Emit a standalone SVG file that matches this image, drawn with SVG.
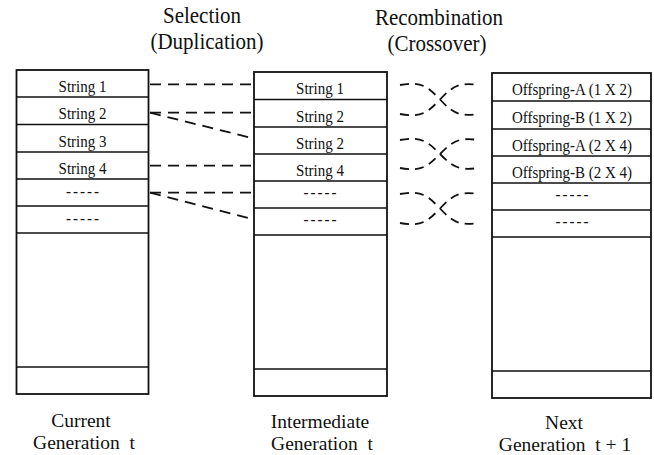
<svg xmlns="http://www.w3.org/2000/svg" width="654" height="455" viewBox="0 0 654 455">
<style>
.box{fill:#fff;stroke:#111;stroke-width:1.8}
.div{stroke:#111;stroke-width:1.5;fill:none}
text{font-family:'Liberation Serif','Times New Roman','DejaVu Serif',serif;fill:#111;text-anchor:middle}
.cell{font-size:15px}
.dots{font-size:15px;letter-spacing:2px}
.title{font-size:21px}
.label{font-size:19.5px}
.sel{stroke:#111;stroke-width:1.8;fill:none;stroke-dasharray:11 7}
.cross{stroke:#111;stroke-width:1.8;fill:none;stroke-dasharray:9 6}
</style>
<rect width="654" height="455" fill="#fff"/>

<g id="titles">
<text class="title" transform="translate(202,23) scale(1,1.05)">Selection</text>
<text class="title" transform="translate(207,49) scale(1,1.05)">(Duplication)</text>
<text class="title" transform="translate(439,25) scale(1,1.05)">Recombination</text>
<text class="title" transform="translate(437,51) scale(1,1.05)">(Crossover)</text>
</g>

<g id="current-generation">
<rect class="box" x="16.5" y="70" width="132" height="324"/>
<path class="div" d="M16.5,97H148.5M16.5,124.5H148.5M16.5,152H148.5M16.5,179H148.5M16.5,206H148.5M16.5,233H148.5M16.5,367H148.5"/>
<text class="cell" transform="translate(82.5,92) scale(1,1.15)">String 1</text>
<text class="cell" transform="translate(82.5,119) scale(1,1.15)">String 2</text>
<text class="cell" transform="translate(82.5,146.5) scale(1,1.15)">String 3</text>
<text class="cell" transform="translate(82.5,174) scale(1,1.15)">String 4</text>
<text class="dots" transform="translate(83.5,197) scale(1,1.15)">-----</text>
<text class="dots" transform="translate(83.5,224) scale(1,1.15)">-----</text>
<text class="label" xml:space="preserve" x="81" y="427">Current</text>
<text class="label" xml:space="preserve" x="84" y="449">Generation  t</text>
</g>

<g id="intermediate-generation">
<rect class="box" x="254" y="72" width="133" height="324"/>
<path class="div" d="M254,99.5H387M254,127H387M254,154H387M254,181H387M254,208H387M254,235H387M254,369H387"/>
<text class="cell" transform="translate(320,94) scale(1,1.15)">String 1</text>
<text class="cell" transform="translate(320,121.5) scale(1,1.15)">String 2</text>
<text class="cell" transform="translate(320,149) scale(1,1.15)">String 2</text>
<text class="cell" transform="translate(320,176) scale(1,1.15)">String 4</text>
<text class="dots" transform="translate(321,198) scale(1,1.15)">-----</text>
<text class="dots" transform="translate(321,225) scale(1,1.15)">-----</text>
<text class="label" xml:space="preserve" x="320" y="428">Intermediate</text>
<text class="label" xml:space="preserve" x="322" y="450">Generation  t</text>
</g>

<g id="next-generation">
<rect class="box" x="492" y="73" width="159" height="325"/>
<path class="div" d="M492,101H651M492,129H651M492,156H651M492,183H651M492,210H651M492,237H651M492,371H651"/>
<text class="cell" transform="translate(572,95) scale(1,1.15)">Offspring-A (1 X 2)</text>
<text class="cell" transform="translate(572,123) scale(1,1.15)">Offspring-B (1 X 2)</text>
<text class="cell" transform="translate(572,151) scale(1,1.15)">Offspring-A (2 X 4)</text>
<text class="cell" transform="translate(572,178) scale(1,1.15)">Offspring-B (2 X 4)</text>
<text class="dots" transform="translate(573,200) scale(1,1.15)">-----</text>
<text class="dots" transform="translate(573,227) scale(1,1.15)">-----</text>
<text class="label" xml:space="preserve" x="564" y="428.5">Next</text>
<text class="label" xml:space="preserve" x="565" y="450.5">Generation  t + 1</text>
</g>

<g id="connectors">
<path class="sel" d="M150,84.3H253"/>
<path class="sel" d="M150,112.7H253"/>
<path class="sel" d="M150,112.7L253,138.3"/>
<path class="sel" d="M150,165.7H253"/>
<path class="sel" d="M150,192.7H253"/>
<path class="sel" d="M150,192.7L253,219.3"/>
<path class="cross" d="M400,85 C422,81 428,87 440,99.5 C452,112 458,117 478,114"/>
<path class="cross" d="M400,114 C422,118 428,112 440,99.5 C452,87 458,82 478,85"/>
<path class="cross" d="M400,140 C422,136 428,142 440,154 C452,166 458,171 478,168"/>
<path class="cross" d="M400,168 C422,172 428,166 440,154 C452,142 458,137 478,140"/>
<path class="cross" d="M400,194 C422,190 428,196 440,208.5 C452,221 458,226 478,223"/>
<path class="cross" d="M400,223 C422,227 428,221 440,208.5 C452,196 458,191 478,194"/>
</g>
</svg>
